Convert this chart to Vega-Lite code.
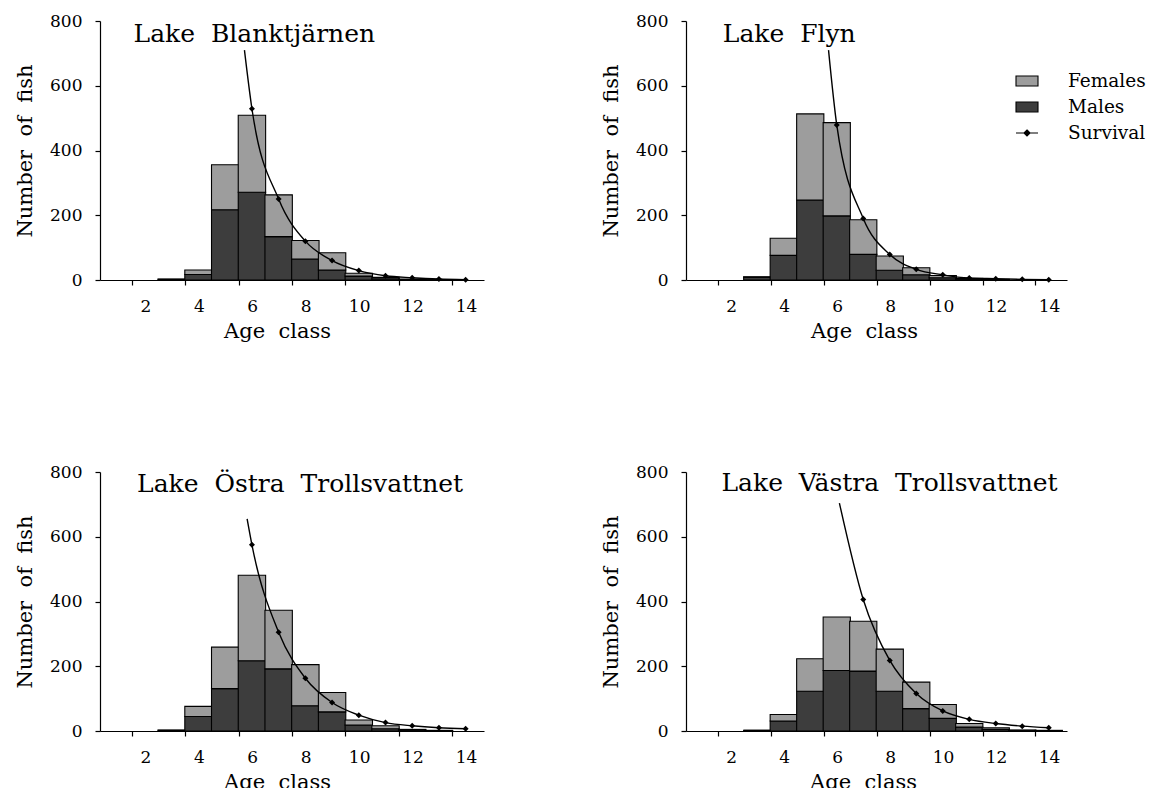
{
  "$schema": "https://vega.github.io/schema/vega-lite/v6.json",
  "background": "white",
  "padding": {"left": 14, "top": 12, "right": 0, "bottom": 0},
  "config": {
    "view": {"stroke": null},
    "font": "DejaVu Serif",
    "axis": {
      "grid": false,
      "domainColor": "black", "domainWidth": 1.2,
      "tickColor": "black", "tickWidth": 1.2, "tickSize": 5,
      "labelFont": "DejaVu Serif", "labelFontSize": 17, "labelColor": "black", "labelPadding": 13,
      "labelFlush": false, "labelBound": false, "labelOverlap": false,
      "titleFont": "DejaVu Serif", "titleFontSize": 21, "titleFontWeight": "normal", "titleColor": "black"
    }
  },
  "datasets": {
    "fish": [
      {"lake": "Blanktjärnen", "age": 3, "sex": "Males", "count": 2},
      {"lake": "Blanktjärnen", "age": 3, "sex": "Females", "count": 1},
      {"lake": "Blanktjärnen", "age": 4, "sex": "Males", "count": 17},
      {"lake": "Blanktjärnen", "age": 4, "sex": "Females", "count": 14},
      {"lake": "Blanktjärnen", "age": 5, "sex": "Males", "count": 217},
      {"lake": "Blanktjärnen", "age": 5, "sex": "Females", "count": 139},
      {"lake": "Blanktjärnen", "age": 6, "sex": "Males", "count": 271},
      {"lake": "Blanktjärnen", "age": 6, "sex": "Females", "count": 238},
      {"lake": "Blanktjärnen", "age": 7, "sex": "Males", "count": 134},
      {"lake": "Blanktjärnen", "age": 7, "sex": "Females", "count": 129},
      {"lake": "Blanktjärnen", "age": 8, "sex": "Males", "count": 65},
      {"lake": "Blanktjärnen", "age": 8, "sex": "Females", "count": 57},
      {"lake": "Blanktjärnen", "age": 9, "sex": "Males", "count": 31},
      {"lake": "Blanktjärnen", "age": 9, "sex": "Females", "count": 53},
      {"lake": "Blanktjärnen", "age": 10, "sex": "Males", "count": 12},
      {"lake": "Blanktjärnen", "age": 10, "sex": "Females", "count": 9},
      {"lake": "Blanktjärnen", "age": 11, "sex": "Males", "count": 4},
      {"lake": "Blanktjärnen", "age": 11, "sex": "Females", "count": 4},
      {"lake": "Blanktjärnen", "age": 12, "sex": "Males", "count": 1},
      {"lake": "Blanktjärnen", "age": 12, "sex": "Females", "count": 2},
      {"lake": "Blanktjärnen", "age": 13, "sex": "Males", "count": 1},
      {"lake": "Blanktjärnen", "age": 13, "sex": "Females", "count": 0},
      {"lake": "Flyn", "age": 3, "sex": "Males", "count": 9},
      {"lake": "Flyn", "age": 3, "sex": "Females", "count": 1},
      {"lake": "Flyn", "age": 4, "sex": "Males", "count": 76},
      {"lake": "Flyn", "age": 4, "sex": "Females", "count": 53},
      {"lake": "Flyn", "age": 5, "sex": "Males", "count": 247},
      {"lake": "Flyn", "age": 5, "sex": "Females", "count": 266},
      {"lake": "Flyn", "age": 6, "sex": "Males", "count": 198},
      {"lake": "Flyn", "age": 6, "sex": "Females", "count": 288},
      {"lake": "Flyn", "age": 7, "sex": "Males", "count": 79},
      {"lake": "Flyn", "age": 7, "sex": "Females", "count": 107},
      {"lake": "Flyn", "age": 8, "sex": "Males", "count": 30},
      {"lake": "Flyn", "age": 8, "sex": "Females", "count": 44},
      {"lake": "Flyn", "age": 9, "sex": "Males", "count": 16},
      {"lake": "Flyn", "age": 9, "sex": "Females", "count": 22},
      {"lake": "Flyn", "age": 10, "sex": "Males", "count": 7},
      {"lake": "Flyn", "age": 10, "sex": "Females", "count": 7},
      {"lake": "Flyn", "age": 11, "sex": "Males", "count": 2},
      {"lake": "Flyn", "age": 11, "sex": "Females", "count": 3},
      {"lake": "Flyn", "age": 12, "sex": "Males", "count": 1},
      {"lake": "Flyn", "age": 12, "sex": "Females", "count": 1},
      {"lake": "Östra Trollsvattnet", "age": 3, "sex": "Males", "count": 2},
      {"lake": "Östra Trollsvattnet", "age": 3, "sex": "Females", "count": 1},
      {"lake": "Östra Trollsvattnet", "age": 4, "sex": "Males", "count": 45},
      {"lake": "Östra Trollsvattnet", "age": 4, "sex": "Females", "count": 31},
      {"lake": "Östra Trollsvattnet", "age": 5, "sex": "Males", "count": 131},
      {"lake": "Östra Trollsvattnet", "age": 5, "sex": "Females", "count": 128},
      {"lake": "Östra Trollsvattnet", "age": 6, "sex": "Males", "count": 217},
      {"lake": "Östra Trollsvattnet", "age": 6, "sex": "Females", "count": 264},
      {"lake": "Östra Trollsvattnet", "age": 7, "sex": "Males", "count": 192},
      {"lake": "Östra Trollsvattnet", "age": 7, "sex": "Females", "count": 181},
      {"lake": "Östra Trollsvattnet", "age": 8, "sex": "Males", "count": 78},
      {"lake": "Östra Trollsvattnet", "age": 8, "sex": "Females", "count": 127},
      {"lake": "Östra Trollsvattnet", "age": 9, "sex": "Males", "count": 59},
      {"lake": "Östra Trollsvattnet", "age": 9, "sex": "Females", "count": 60},
      {"lake": "Östra Trollsvattnet", "age": 10, "sex": "Males", "count": 18},
      {"lake": "Östra Trollsvattnet", "age": 10, "sex": "Females", "count": 16},
      {"lake": "Östra Trollsvattnet", "age": 11, "sex": "Males", "count": 7},
      {"lake": "Östra Trollsvattnet", "age": 11, "sex": "Females", "count": 9},
      {"lake": "Östra Trollsvattnet", "age": 12, "sex": "Males", "count": 2},
      {"lake": "Östra Trollsvattnet", "age": 12, "sex": "Females", "count": 3},
      {"lake": "Östra Trollsvattnet", "age": 13, "sex": "Males", "count": 1},
      {"lake": "Östra Trollsvattnet", "age": 13, "sex": "Females", "count": 1},
      {"lake": "Västra Trollsvattnet", "age": 3, "sex": "Males", "count": 2},
      {"lake": "Västra Trollsvattnet", "age": 3, "sex": "Females", "count": 0},
      {"lake": "Västra Trollsvattnet", "age": 4, "sex": "Males", "count": 31},
      {"lake": "Västra Trollsvattnet", "age": 4, "sex": "Females", "count": 20},
      {"lake": "Västra Trollsvattnet", "age": 5, "sex": "Males", "count": 123},
      {"lake": "Västra Trollsvattnet", "age": 5, "sex": "Females", "count": 100},
      {"lake": "Västra Trollsvattnet", "age": 6, "sex": "Males", "count": 187},
      {"lake": "Västra Trollsvattnet", "age": 6, "sex": "Females", "count": 165},
      {"lake": "Västra Trollsvattnet", "age": 7, "sex": "Males", "count": 185},
      {"lake": "Västra Trollsvattnet", "age": 7, "sex": "Females", "count": 154},
      {"lake": "Västra Trollsvattnet", "age": 8, "sex": "Males", "count": 123},
      {"lake": "Västra Trollsvattnet", "age": 8, "sex": "Females", "count": 130},
      {"lake": "Västra Trollsvattnet", "age": 9, "sex": "Males", "count": 69},
      {"lake": "Västra Trollsvattnet", "age": 9, "sex": "Females", "count": 82},
      {"lake": "Västra Trollsvattnet", "age": 10, "sex": "Males", "count": 39},
      {"lake": "Västra Trollsvattnet", "age": 10, "sex": "Females", "count": 43},
      {"lake": "Västra Trollsvattnet", "age": 11, "sex": "Males", "count": 12},
      {"lake": "Västra Trollsvattnet", "age": 11, "sex": "Females", "count": 11},
      {"lake": "Västra Trollsvattnet", "age": 12, "sex": "Males", "count": 5},
      {"lake": "Västra Trollsvattnet", "age": 12, "sex": "Females", "count": 5},
      {"lake": "Västra Trollsvattnet", "age": 13, "sex": "Males", "count": 2},
      {"lake": "Västra Trollsvattnet", "age": 13, "sex": "Females", "count": 1},
      {"lake": "Västra Trollsvattnet", "age": 14, "sex": "Males", "count": 1},
      {"lake": "Västra Trollsvattnet", "age": 14, "sex": "Females", "count": 1}
    ],
    "survival": [
      {"lake": "Blanktjärnen", "age": 5.72, "n": 710},
      {"lake": "Blanktjärnen", "age": 6, "n": 529},
      {"lake": "Blanktjärnen", "age": 7, "n": 250},
      {"lake": "Blanktjärnen", "age": 8, "n": 120},
      {"lake": "Blanktjärnen", "age": 9, "n": 60},
      {"lake": "Blanktjärnen", "age": 10, "n": 29},
      {"lake": "Blanktjärnen", "age": 11, "n": 13},
      {"lake": "Blanktjärnen", "age": 12, "n": 7},
      {"lake": "Blanktjärnen", "age": 13, "n": 3},
      {"lake": "Blanktjärnen", "age": 14, "n": 1},
      {"lake": "Flyn", "age": 5.69, "n": 710},
      {"lake": "Flyn", "age": 6, "n": 479},
      {"lake": "Flyn", "age": 7, "n": 190},
      {"lake": "Flyn", "age": 8, "n": 79},
      {"lake": "Flyn", "age": 9, "n": 33},
      {"lake": "Flyn", "age": 10, "n": 16},
      {"lake": "Flyn", "age": 11, "n": 6},
      {"lake": "Flyn", "age": 12, "n": 4},
      {"lake": "Flyn", "age": 13, "n": 2},
      {"lake": "Flyn", "age": 14, "n": 1},
      {"lake": "Östra Trollsvattnet", "age": 5.82, "n": 655},
      {"lake": "Östra Trollsvattnet", "age": 6, "n": 575},
      {"lake": "Östra Trollsvattnet", "age": 7, "n": 305},
      {"lake": "Östra Trollsvattnet", "age": 8, "n": 163},
      {"lake": "Östra Trollsvattnet", "age": 9, "n": 88},
      {"lake": "Östra Trollsvattnet", "age": 10, "n": 49},
      {"lake": "Östra Trollsvattnet", "age": 11, "n": 26},
      {"lake": "Östra Trollsvattnet", "age": 12, "n": 16},
      {"lake": "Östra Trollsvattnet", "age": 13, "n": 10},
      {"lake": "Östra Trollsvattnet", "age": 14, "n": 7},
      {"lake": "Västra Trollsvattnet", "age": 6.1, "n": 704},
      {"lake": "Västra Trollsvattnet", "age": 7, "n": 406},
      {"lake": "Västra Trollsvattnet", "age": 8, "n": 218},
      {"lake": "Västra Trollsvattnet", "age": 9, "n": 116},
      {"lake": "Västra Trollsvattnet", "age": 10, "n": 62},
      {"lake": "Västra Trollsvattnet", "age": 11, "n": 36},
      {"lake": "Västra Trollsvattnet", "age": 12, "n": 23},
      {"lake": "Västra Trollsvattnet", "age": 13, "n": 15},
      {"lake": "Västra Trollsvattnet", "age": 14, "n": 10}
    ]
  },
  "spacing": 122,
  "resolve": {"scale": {"color": "independent"}, "legend": {"color": "independent"}},
  "vconcat": [
    {
      "spacing": 116,
      "resolve": {"scale": {"color": "independent"}, "legend": {"color": "independent"}},
      "hconcat": [
        {
          "width": 384, "height": 259,
          "layer": [
            {
              "data": {"name": "fish"},
              "transform": [{"filter": "datum.lake === 'Blanktjärnen'"}],
              "mark": {"type": "bar", "width": 27.4, "stroke": "black", "strokeWidth": 1.1},
              "encoding": {
                "x": {"field": "age", "type": "quantitative", "scale": {"domain": [0.5, 14.5], "nice": false, "zero": false},
                  "axis": {"title": "Age\u00a0 class", "titleX": 177, "titlePadding": 6, "labelOverlap": false, "values": [1.5,2.5,3.5,4.5,5.5,6.5,7.5,8.5,9.5,10.5,11.5,12.5,13.5,14.5],
                    "labelExpr": "datum.value % 2 === 1.5 ? format(datum.value + 0.5, 'd') : ''", "labelOffset": 13.7,
                    "encode": {"ticks": {"update": {"y": {"value": -5}}}}}},
                "y": {"field": "count", "type": "quantitative", "stack": "zero", "scale": {"domain": [0, 800], "nice": false},
                  "axis": {"title": "Number\u00a0 of\u00a0 fish", "titlePadding": 14, "labelOverlap": false, "values": [0,100,200,300,400,500,600,700,800],
                    "labelExpr": "datum.value % 200 === 0 ? datum.label : ''",
                    "encode": {"ticks": {"update": {"x": {"value": 5}}}}}},
                "color": {"field": "sex", "type": "nominal", "scale": {"domain": ["Females", "Males", "Survival"], "range": ["#9d9d9d", "#3d3d3d", "#000000"]}, "legend": null},
                "order": {"field": "sex", "sort": "descending"}
              }
            },
            {
              "data": {"name": "survival"},
              "transform": [{"filter": "datum.lake === 'Blanktjärnen'"}],
              "mark": {"type": "line", "interpolate": "monotone", "color": "black", "strokeWidth": 1.4},
              "encoding": {"x": {"field": "age", "type": "quantitative"}, "y": {"field": "n", "type": "quantitative"}}
            },
            {
              "data": {"name": "survival"},
              "transform": [{"filter": "datum.lake === 'Blanktjärnen' && datum.age % 1 === 0"}],
              "mark": {"type": "point", "shape": "diamond", "filled": true, "color": "black", "size": 36, "opacity": 1},
              "encoding": {"x": {"field": "age", "type": "quantitative"}, "y": {"field": "n", "type": "quantitative"}}
            },
            {
              "data": {"values": [{}]},
              "mark": {"type": "text", "text": "Lake\u00a0 Blanktjärnen", "align": "left", "baseline": "alphabetic", "font": "DejaVu Serif", "fontSize": 25, "color": "black"},
              "encoding": {"x": {"datum": 1.57}, "y": {"datum": 736}}
            }
          ]
        },
        {
          "width": 381, "height": 259,
          "layer": [
            {
              "data": {"name": "fish"},
              "transform": [{"filter": "datum.lake === 'Flyn'"}],
              "mark": {"type": "bar", "width": 27.2, "stroke": "black", "strokeWidth": 1.1},
              "encoding": {
                "x": {"field": "age", "type": "quantitative", "scale": {"domain": [0.5, 14.5], "nice": false, "zero": false},
                  "axis": {"title": "Age\u00a0 class", "titleX": 178, "titlePadding": 6, "labelOverlap": false, "values": [1.5,2.5,3.5,4.5,5.5,6.5,7.5,8.5,9.5,10.5,11.5,12.5,13.5,14.5],
                    "labelExpr": "datum.value % 2 === 1.5 ? format(datum.value + 0.5, 'd') : ''", "labelOffset": 13.6,
                    "encode": {"ticks": {"update": {"y": {"value": -5}}}}}},
                "y": {"field": "count", "type": "quantitative", "stack": "zero", "scale": {"domain": [0, 800], "nice": false},
                  "axis": {"title": "Number\u00a0 of\u00a0 fish", "titlePadding": 14, "labelOverlap": false, "values": [0,100,200,300,400,500,600,700,800],
                    "labelExpr": "datum.value % 200 === 0 ? datum.label : ''",
                    "encode": {"ticks": {"update": {"x": {"value": 5}}}}}},
                "color": {"field": "sex", "type": "nominal", "scale": {"domain": ["Females", "Males", "Survival"], "range": ["#9d9d9d", "#3d3d3d", "#000000"]},
                  "legend": {"title": null, "orient": "none", "direction": "vertical", "legendX": 329, "legendY": 48,
                    "labelFont": "DejaVu Serif", "labelFontSize": 18.5, "labelColor": "black", "labelOffset": 29, "rowPadding": 4,
                    "symbolType": "M-1,-0.45H1V0.45H-1Z", "symbolSize": 484, "symbolStrokeColor": "black", "symbolStrokeWidth": 1.1, "symbolOpacity": 1,
                    "encode": {"symbols": {"update": {"shape": {"signal": "datum.value === 'Survival' ? 'M-1,0H1M0,-0.28L0.28,0L0,0.28L-0.28,0Z' : 'M-1,-0.45H1V0.45H-1Z'"}}}}}},
                "order": {"field": "sex", "sort": "descending"}
              }
            },
            {
              "data": {"name": "survival"},
              "transform": [{"filter": "datum.lake === 'Flyn'"}],
              "mark": {"type": "line", "interpolate": "monotone", "color": "black", "strokeWidth": 1.4},
              "encoding": {"x": {"field": "age", "type": "quantitative"}, "y": {"field": "n", "type": "quantitative"}}
            },
            {
              "data": {"name": "survival"},
              "transform": [{"filter": "datum.lake === 'Flyn' && datum.age % 1 === 0"}],
              "mark": {"type": "point", "shape": "diamond", "filled": true, "color": "black", "size": 36, "opacity": 1},
              "encoding": {"x": {"field": "age", "type": "quantitative"}, "y": {"field": "n", "type": "quantitative"}}
            },
            {
              "data": {"values": [{}]},
              "mark": {"type": "text", "text": "Lake\u00a0 Flyn", "align": "left", "baseline": "alphabetic", "font": "DejaVu Serif", "fontSize": 25, "color": "black"},
              "encoding": {"x": {"datum": 1.7}, "y": {"datum": 736}}
            }
          ]
        }
      ]
    },
    {
      "spacing": 116,
      "resolve": {"scale": {"color": "independent"}, "legend": {"color": "independent"}},
      "hconcat": [
        {
          "width": 384, "height": 259,
          "layer": [
            {
              "data": {"name": "fish"},
              "transform": [{"filter": "datum.lake === 'Östra Trollsvattnet'"}],
              "mark": {"type": "bar", "width": 27.4, "stroke": "black", "strokeWidth": 1.1},
              "encoding": {
                "x": {"field": "age", "type": "quantitative", "scale": {"domain": [0.5, 14.5], "nice": false, "zero": false},
                  "axis": {"title": "Age\u00a0 class", "titleX": 177, "titlePadding": 6, "labelOverlap": false, "values": [1.5,2.5,3.5,4.5,5.5,6.5,7.5,8.5,9.5,10.5,11.5,12.5,13.5,14.5],
                    "labelExpr": "datum.value % 2 === 1.5 ? format(datum.value + 0.5, 'd') : ''", "labelOffset": 13.7,
                    "encode": {"ticks": {"update": {"y": {"value": -5}}}}}},
                "y": {"field": "count", "type": "quantitative", "stack": "zero", "scale": {"domain": [0, 800], "nice": false},
                  "axis": {"title": "Number\u00a0 of\u00a0 fish", "titlePadding": 14, "labelOverlap": false, "values": [0,100,200,300,400,500,600,700,800],
                    "labelExpr": "datum.value % 200 === 0 ? datum.label : ''",
                    "encode": {"ticks": {"update": {"x": {"value": 5}}}}}},
                "color": {"field": "sex", "type": "nominal", "scale": {"domain": ["Females", "Males", "Survival"], "range": ["#9d9d9d", "#3d3d3d", "#000000"]}, "legend": null},
                "order": {"field": "sex", "sort": "descending"}
              }
            },
            {
              "data": {"name": "survival"},
              "transform": [{"filter": "datum.lake === 'Östra Trollsvattnet'"}],
              "mark": {"type": "line", "interpolate": "monotone", "color": "black", "strokeWidth": 1.4},
              "encoding": {"x": {"field": "age", "type": "quantitative"}, "y": {"field": "n", "type": "quantitative"}}
            },
            {
              "data": {"name": "survival"},
              "transform": [{"filter": "datum.lake === 'Östra Trollsvattnet' && datum.age % 1 === 0"}],
              "mark": {"type": "point", "shape": "diamond", "filled": true, "color": "black", "size": 36, "opacity": 1},
              "encoding": {"x": {"field": "age", "type": "quantitative"}, "y": {"field": "n", "type": "quantitative"}}
            },
            {
              "data": {"values": [{}]},
              "mark": {"type": "text", "text": "Lake\u00a0 Östra\u00a0 Trollsvattnet", "align": "left", "baseline": "alphabetic", "font": "DejaVu Serif", "fontSize": 25, "color": "black"},
              "encoding": {"x": {"datum": 1.7}, "y": {"datum": 738}}
            }
          ]
        },
        {
          "width": 381, "height": 259,
          "layer": [
            {
              "data": {"name": "fish"},
              "transform": [{"filter": "datum.lake === 'Västra Trollsvattnet'"}],
              "mark": {"type": "bar", "width": 27.2, "stroke": "black", "strokeWidth": 1.1},
              "encoding": {
                "x": {"field": "age", "type": "quantitative", "scale": {"domain": [0.5, 14.5], "nice": false, "zero": false},
                  "axis": {"title": "Age\u00a0 class", "titleX": 177, "titlePadding": 6, "labelOverlap": false, "values": [1.5,2.5,3.5,4.5,5.5,6.5,7.5,8.5,9.5,10.5,11.5,12.5,13.5,14.5],
                    "labelExpr": "datum.value % 2 === 1.5 ? format(datum.value + 0.5, 'd') : ''", "labelOffset": 13.6,
                    "encode": {"ticks": {"update": {"y": {"value": -5}}}}}},
                "y": {"field": "count", "type": "quantitative", "stack": "zero", "scale": {"domain": [0, 800], "nice": false},
                  "axis": {"title": "Number\u00a0 of\u00a0 fish", "titlePadding": 14, "labelOverlap": false, "values": [0,100,200,300,400,500,600,700,800],
                    "labelExpr": "datum.value % 200 === 0 ? datum.label : ''",
                    "encode": {"ticks": {"update": {"x": {"value": 5}}}}}},
                "color": {"field": "sex", "type": "nominal", "scale": {"domain": ["Females", "Males", "Survival"], "range": ["#9d9d9d", "#3d3d3d", "#000000"]}, "legend": null},
                "order": {"field": "sex", "sort": "descending"}
              }
            },
            {
              "data": {"name": "survival"},
              "transform": [{"filter": "datum.lake === 'Västra Trollsvattnet'"}],
              "mark": {"type": "line", "interpolate": "monotone", "color": "black", "strokeWidth": 1.4},
              "encoding": {"x": {"field": "age", "type": "quantitative"}, "y": {"field": "n", "type": "quantitative"}}
            },
            {
              "data": {"name": "survival"},
              "transform": [{"filter": "datum.lake === 'Västra Trollsvattnet' && datum.age % 1 === 0"}],
              "mark": {"type": "point", "shape": "diamond", "filled": true, "color": "black", "size": 36, "opacity": 1},
              "encoding": {"x": {"field": "age", "type": "quantitative"}, "y": {"field": "n", "type": "quantitative"}}
            },
            {
              "data": {"values": [{}]},
              "mark": {"type": "text", "text": "Lake\u00a0 Västra\u00a0 Trollsvattnet", "align": "left", "baseline": "alphabetic", "font": "DejaVu Serif", "fontSize": 25, "color": "black"},
              "encoding": {"x": {"datum": 1.65}, "y": {"datum": 740}}
            }
          ]
        }
      ]
    }
  ]
}
